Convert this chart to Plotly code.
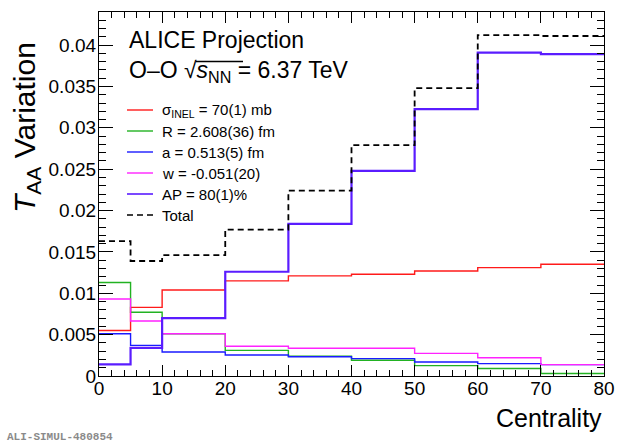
import plotly.graph_objects as go

# centrality bin edges and T_AA variation per bin
edges = [0, 5, 10, 20, 30, 40, 50, 60, 70, 80]
sigma_inel = [0.0055, 0.0083, 0.0104, 0.0115, 0.0121, 0.0123, 0.0127, 0.0131, 0.0135]
radius = [0.0113, 0.0077, 0.0051, 0.0031, 0.0024, 0.0019, 0.00125, 0.0009, 0.0003]
diffuse = [0.0051, 0.0037, 0.0029, 0.00254, 0.00233, 0.0021, 0.0017, 0.0015, 0.00137]
wparam = [0.0093, 0.00665, 0.0051, 0.0036, 0.00335, 0.00335, 0.00274, 0.0022, 0.00137]
anchor_pt = [0.0014, 0.0034, 0.0070, 0.0126, 0.0184, 0.0248, 0.03225, 0.0391, 0.0389]
total = [0.0163, 0.0139, 0.0146, 0.0177, 0.0224, 0.0279, 0.0348, 0.0412, 0.0411]

series = [
    ("σ<sub>INEL</sub> = 70(1) mb", sigma_inel, "#ff1a1a", 1.4, "solid"),
    ("R = 2.608(36) fm", radius, "#22b222", 1.4, "solid"),
    ("a = 0.513(5) fm", diffuse, "#1a1aff", 1.4, "solid"),
    ("w = -0.051(20)", wparam, "#ff22ff", 1.4, "solid"),
    ("AP = 80(1)%", anchor_pt, "#5a1cff", 2.2, "solid"),
    ("Total", total, "black", 1.8, "6px,4px"),
]

FONT = "Liberation Sans, Arial, Helvetica, sans-serif"

fig = go.Figure()
for name, vals, color, width, dash in series:
    fig.add_trace(
        go.Scatter(
            x=edges,
            y=vals + vals[-1:],
            mode="lines",
            line=dict(color=color, width=width, dash=dash, shape="hv"),
            name=name,
            showlegend=False,
        )
    )

# hand-placed legend (ROOT TLegend look)
leg_x0, leg_x1, leg_text = 127, 153, 160
row_y = [110, 131, 152, 173, 194, 215]
W, H = 620, 448
L, R, T, B = 99, 16, 12, 72
pw, ph = W - L - R, H - T - B


def px(x):
    return (x - L) / pw


def py(y):
    return (H - B - y) / ph


for (name, _, color, width, dash), y in zip(series, row_y):
    fig.add_shape(
        type="line", xref="paper", yref="paper",
        x0=px(leg_x0), x1=px(leg_x1), y0=py(y), y1=py(y),
        line=dict(color=color, width=min(width, 1.6), dash=dash),
    )
    fig.add_annotation(
        xref="paper", yref="paper", x=px(leg_text), y=py(y),
        text=name, showarrow=False, xanchor="left", yanchor="middle",
        font=dict(size=15, color="black", family=FONT),
    )

fig.add_annotation(
    xref="paper", yref="paper", x=px(127), y=py(40), text="ALICE Projection",
    showarrow=False, xanchor="left", yanchor="middle",
    font=dict(size=23, color="black", family=FONT),
)
fig.add_annotation(
    xref="paper", yref="paper", x=px(127), y=py(71),
    text="O–O √<i>s</i><sub>NN</sub> = 6.37 TeV",
    showarrow=False, xanchor="left", yanchor="middle",
    font=dict(size=23, color="black", family=FONT),
)
# radical bar over s_NN
fig.add_shape(
    type="line", xref="paper", yref="paper",
    x0=px(196), x1=px(243), y0=py(61.5), y1=py(61.5),
    line=dict(color="black", width=1.5),
)

fig.add_annotation(
    xref="paper", yref="paper", x=px(27), y=py(128),
    text="<i>T</i><sub>AA</sub> Variation", textangle=-90,
    showarrow=False, xanchor="center", yanchor="middle",
    font=dict(size=30, color="black", family=FONT),
)
fig.add_annotation(
    xref="paper", yref="paper", x=1.0, y=py(418), text="Centrality",
    showarrow=False, xanchor="right", yanchor="middle",
    font=dict(size=25, color="black", family=FONT),
)
fig.add_annotation(
    xref="paper", yref="paper", x=px(5), y=py(437), text="<b>ALI-SIMUL-480854</b>",
    showarrow=False, xanchor="left", yanchor="middle",
    font=dict(size=11, color="#8a8a8a", family="Liberation Mono, DejaVu Sans Mono, monospace"),
)

axis_common = dict(
    showline=True, linecolor="black", linewidth=1.2, mirror="ticks",
    ticks="inside", tickcolor="black", showgrid=False, zeroline=False,
    automargin=False,
    tickfont=dict(size=19, color="black", family=FONT),
)
fig.update_xaxes(
    range=[0, 80], tick0=0, dtick=10, ticklen=11, tickwidth=1.2,
    ticklabelstandoff=-5,
    minor=dict(dtick=2, ticks="inside", ticklen=6, tickcolor="black", showgrid=False),
    **axis_common,
)
fig.update_yaxes(
    range=[0, 0.044], tick0=0, dtick=0.005, ticklen=14, tickwidth=1.2,
    ticklabelstandoff=-2,
    minor=dict(dtick=0.001, ticks="inside", ticklen=7, tickcolor="black", showgrid=False),
    **axis_common,
)
fig.update_layout(
    width=W, height=H,
    margin=dict(l=L, r=R, t=T, b=B),
    paper_bgcolor="white", plot_bgcolor="white",
    showlegend=False,
)
fig.write_html(
    "out.html",
    config={"displayModeBar": False},
    post_script="document.body.style.margin='0';",
)
